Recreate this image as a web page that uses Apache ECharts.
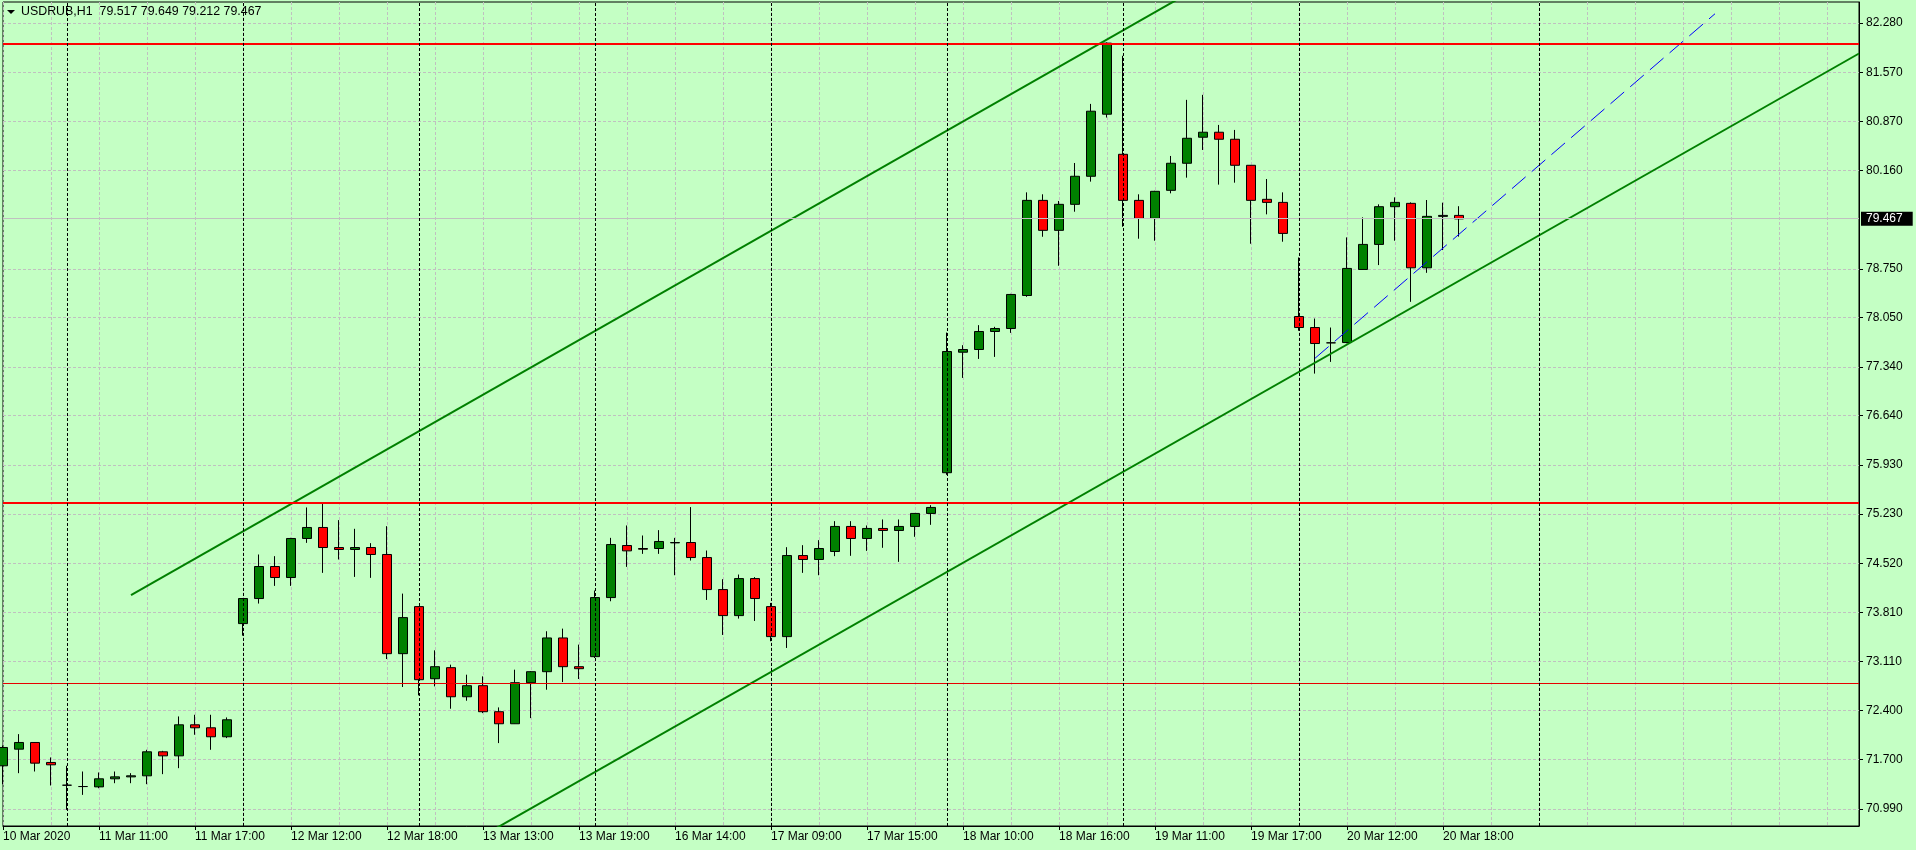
<!DOCTYPE html>
<html>
<head>
<meta charset="utf-8">
<style>
html,body{margin:0;padding:0;background:#c4ffc4;}
#c{width:1916px;height:850px;}
</style>
<script src="https://cdn.jsdelivr.net/npm/echarts@6/dist/echarts.min.js"></script>
</head>
<body>
<div id="c"></div>
<script>
// ---- data (USDRUB H1) ----
var opens = [71.609,71.848,71.944,71.657,71.330,71.311,71.306,71.422,71.450,71.465,71.810,71.752,72.198,72.155,72.026,
73.652,74.012,74.472,74.314,74.875,75.033,74.745,74.717,74.745,74.645,73.220,73.896,72.860,73.019,72.601,
72.760,72.386,72.213,72.803,72.961,73.446,73.033,73.177,74.026,74.774,74.731,74.731,74.812,74.817,74.601,
74.141,73.767,74.299,73.896,73.465,74.630,74.573,74.688,75.048,74.875,75.019,74.990,75.048,75.235,75.820,
77.551,77.590,77.849,77.892,78.366,79.733,79.302,79.676,80.079,80.971,80.395,79.733,79.474,79.877,80.266,
80.640,80.712,80.611,80.237,79.748,79.704,78.064,77.906,77.686,77.690,78.740,79.100,79.642,79.690,78.764,
79.503,79.517];
var highs = [71.900,72.064,71.950,71.729,71.609,71.527,71.513,71.527,71.503,71.839,71.824,72.318,72.342,72.342,72.304,
74.020,74.645,74.621,74.884,75.321,75.388,75.139,75.014,74.808,75.052,74.083,73.900,73.268,73.062,72.918,
72.894,72.448,72.990,72.970,73.542,73.580,73.350,74.127,74.884,75.062,74.918,74.995,74.884,75.326,74.702,
74.290,74.357,74.320,73.949,74.750,74.779,74.851,75.124,75.124,75.062,75.148,75.148,75.240,75.354,77.834,
77.652,77.940,77.916,78.390,79.848,79.820,79.724,80.270,81.119,82.002,81.810,79.820,79.870,80.371,81.177,
81.249,80.817,80.745,80.240,80.040,79.848,78.913,78.035,77.906,79.201,79.489,79.676,79.776,79.704,79.738,
79.700,79.649];
var lows = [71.345,71.503,71.527,71.326,70.976,71.191,71.287,71.359,71.359,71.345,71.489,71.575,72.055,71.839,72.007,
73.479,73.940,74.194,74.194,74.812,74.381,74.573,74.323,74.309,73.143,72.741,72.621,72.750,72.429,72.544,
72.366,71.935,72.210,72.294,72.702,72.812,72.856,73.158,73.973,74.467,74.654,74.654,74.347,74.558,73.992,
73.489,73.724,73.690,73.398,73.302,74.381,74.347,74.621,74.626,74.697,74.741,74.539,74.899,75.071,75.790,
77.182,77.455,77.484,77.829,78.347,79.210,78.793,79.570,80.002,80.923,79.354,79.182,79.153,79.834,80.059,
80.457,79.959,79.987,79.110,79.532,79.139,77.860,77.244,77.412,77.680,78.740,78.803,79.153,78.275,78.692,
79.019,79.212];
var closes = [71.872,71.944,71.647,71.623,71.330,71.311,71.422,71.450,71.465,71.810,71.752,72.198,72.155,72.026,72.270,
74.012,74.472,74.314,74.875,75.033,74.745,74.717,74.745,74.645,73.220,73.738,72.846,73.033,72.601,72.760,
72.386,72.213,72.803,72.961,73.446,73.033,73.004,74.026,74.788,74.697,74.721,74.832,74.817,74.601,74.141,
73.767,74.299,74.012,73.465,74.630,74.573,74.731,75.048,74.875,75.019,74.990,75.048,75.235,75.321,77.561,
77.590,77.849,77.892,78.381,79.733,79.302,79.676,80.079,81.014,81.992,79.733,79.474,79.863,80.266,80.625,
80.712,80.611,80.237,79.733,79.704,79.258,77.906,77.676,77.686,78.755,79.100,79.642,79.704,78.764,79.503,
79.517,79.467];

var slotCount = 117; // candle slots incl. empty right margin
var xLabelIdx  = [0,6,12,18,24,30,36,42,48,54,60,66,72,78,84,90];
var xLabelText = ['10 Mar 2020','11 Mar 11:00','11 Mar 17:00','12 Mar 12:00','12 Mar 18:00','13 Mar 13:00',
  '13 Mar 19:00','16 Mar 14:00','17 Mar 09:00','17 Mar 15:00','18 Mar 10:00','18 Mar 16:00',
  '19 Mar 11:00','19 Mar 17:00','20 Mar 12:00','20 Mar 18:00'];
var daySeparators = [4,15,26,37,48,59,70,81,96];
var yTicks = [82.280,81.570,80.870,80.160,78.750,78.050,77.340,76.640,75.930,75.230,74.520,73.810,73.110,72.400,71.700,70.990];
var yMin = 70.744, yMax = 82.583;
var bidPrice = 79.467;
var redLevelsThick = [81.984, 75.389];
var redLevelThin = [72.794];
var channelUpper = [[8,74.062],[80,83.484]];
var channelLower = [[28,70.344],[116,81.843]];
var blueDashed = [[82,77.464],[107,82.414]];
var titleText = 'USDRUB,H1  79.517 79.649 79.212 79.467';

// ---- build ----
var categories = [];
for (var i = 0; i < slotCount; i++) categories.push(String(i));
var labelMap = {};
xLabelIdx.forEach(function(k, j){ labelMap[k] = xLabelText[j]; });
var candleData = opens.map(function(o, i){ return [o, closes[i], lows[i], highs[i]]; });

var FONT = "'Liberation Sans', Arial, sans-serif";
var levelLines = [];
redLevelsThick.forEach(function(v){ levelLines.push({yAxis: v, lineStyle:{color:'#ff0000', width:2, type:'solid'}}); });
redLevelThin.forEach(function(v){ levelLines.push({yAxis: v, lineStyle:{color:'#e60000', width:1, type:'solid'}}); });
levelLines.push({yAxis: bidPrice, lineStyle:{color:'#c0c0c0', width:1, type:'solid'},
  label:{show:true, position:'end', formatter: bidPrice.toFixed(3), color:'#ffffff', backgroundColor:'#000000',
         padding:[1,10,1,5], distance:2, fontSize:12, fontFamily:FONT}});
daySeparators.forEach(function(k){ levelLines.push({xAxis: k, lineStyle:{color:'#000000', width:1, type:[3,2]}}); });

var chart = echarts.init(document.getElementById('c'), null, {renderer:'canvas'});
chart.setOption({
  animation: false,
  backgroundColor: '#c4ffc4',
  grid: {left: 3, top: 2, width: 1856, height: 824, show: true, borderColor: '#000', borderWidth: 1, backgroundColor: 'transparent'},
  xAxis: {
    type: 'category', data: categories, boundaryGap: false,
    axisLine: {show: true, onZero: false, lineStyle: {color: '#000', width: 1}},
    axisTick: {show: true, length: 4, interval: function(idx){ return labelMap[idx] !== undefined; }, lineStyle: {color: '#000'}},
    axisLabel: {show: true, interval: function(idx){ return labelMap[idx] !== undefined; },
      formatter: function(v, idx){ return labelMap[idx] || ''; },
      align: 'left', margin: 5, color: '#000', fontSize: 12, fontFamily: FONT},
    splitLine: {show: true, interval: function(idx){ return idx % 3 === 0; }, lineStyle: {color: '#c0c0c0', width: 1, type: [3,2]}}
  },
  yAxis: {
    type: 'value', position: 'right', min: yMin, max: yMax,
    axisLine: {show: true, lineStyle: {color: '#000', width: 1}},
    axisTick: {show: true, length: 4, customValues: yTicks, lineStyle: {color: '#000'}},
    axisLabel: {show: true, customValues: yTicks, margin: 7, color: '#000', fontSize: 12, fontFamily: FONT,
      formatter: function(v){ return v.toFixed(3); }},
    splitLine: {show: true, lineStyle: {color: '#c0c0c0', width: 1, type: [3,2]}}
  },
  series: [
    {type: 'line', data: [], z: 1, silent: true,
     markLine: {silent: true, symbol: ['none','none'], animation: false, label: {show: false}, data: levelLines}},
    {type: 'candlestick', data: candleData, z: 2, barWidth: 10, clip: true,
     itemStyle: {color: '#008000', color0: '#ff0000', borderColor: '#000', borderColor0: '#000', borderColorDoji: '#000', borderWidth: 1}},
    {type: 'line', data: channelUpper, z: 3, symbol: 'none', clip: true, silent: true, lineStyle: {color: '#008000', width: 2}},
    {type: 'line', data: channelLower, z: 3, symbol: 'none', clip: true, silent: true, lineStyle: {color: '#008000', width: 2}},
    {type: 'line', data: blueDashed, z: 3, symbol: 'none', clip: true, silent: true, lineStyle: {color: '#0000ff', width: 1, type: [18,8]}}
  ],
  graphic: [
    {type: 'polygon', left: 7, top: 10, shape: {points: [[0,0],[8,0],[4,4]]}, style: {fill: '#000'}, z: 100},
    {type: 'text', left: 21, top: 6, style: {text: titleText, fill: '#000', font: '12.4px ' + FONT}, z: 100}
  ]
});
</script>
</body>
</html>
